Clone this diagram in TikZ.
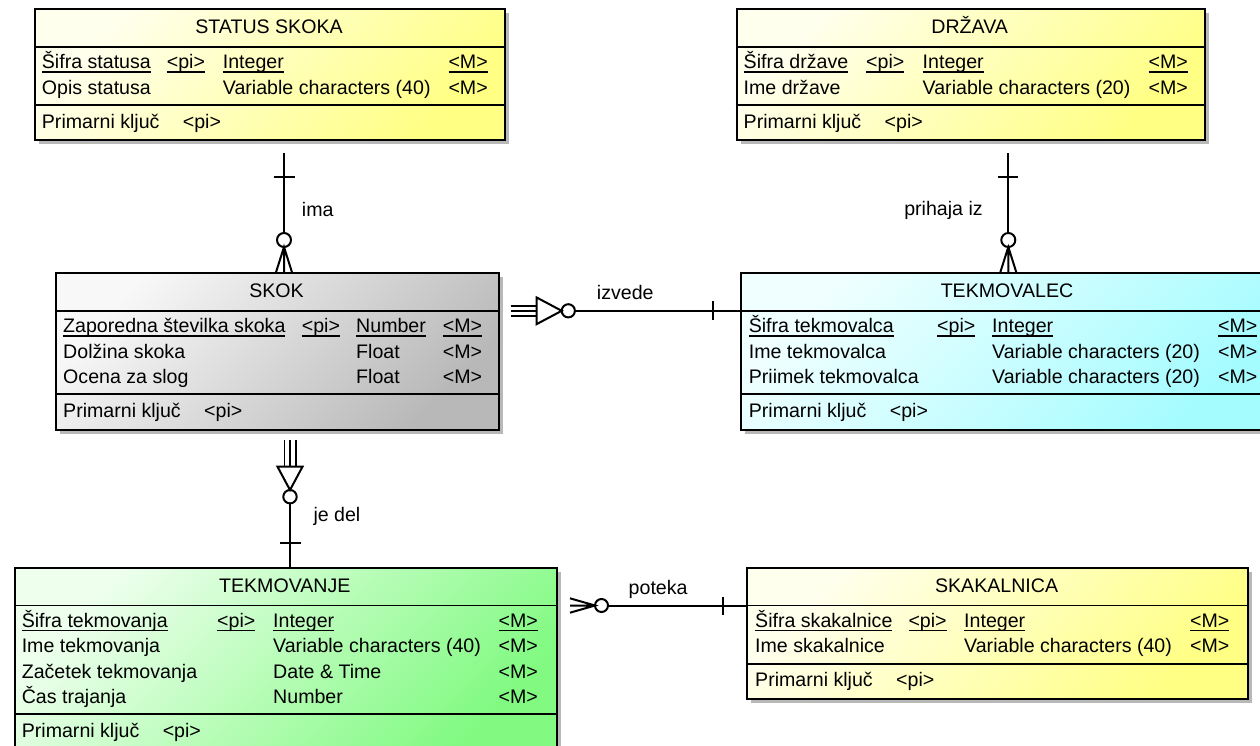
\documentclass[tikz,border=0pt]{standalone}
\usepackage{fontspec}
\setmainfont{Liberation Sans}
\usetikzlibrary{shadows}

\definecolor{ylwA}{RGB}{255,255,238}
\definecolor{ylwB}{RGB}{255,255,132}
\definecolor{cynA}{RGB}{240,255,255}
\definecolor{cynB}{RGB}{165,252,255}
\definecolor{grnA}{RGB}{238,255,238}
\definecolor{grnB}{RGB}{130,250,130}
\definecolor{gryA}{RGB}{248,248,248}
\definecolor{gryB}{RGB}{184,184,184}

% underlined primary-key field, rule at a fixed depth below the baseline
\newcommand\keyul[1]{\setbox0=\hbox{#1}\rlap{\rule[-3.8pt]{\wd0}{1.3pt}}\box0}

\begin{document}
\begin{tikzpicture}[x=1pt,y=-1pt,
  font=\fontsize{19.6}{23}\selectfont,
  entity/.style={draw=black, line width=2pt, anchor=north west, inner sep=0pt,
    drop shadow={shadow xshift=4pt, shadow yshift=-4pt, opacity=.28, fill=black}},
  ylw/.style={top color=ylwA, bottom color=ylwB, shading angle=45},
  cyn/.style={top color=cynA, bottom color=cynB, shading angle=45},
  grn/.style={top color=grnA, bottom color=grnB, shading angle=45},
  gry/.style={top color=gryA, bottom color=gryB, shading angle=45},
  sepline/.style={line width=1.8pt},
  fld/.style={anchor=base west, inner sep=0pt},
  ttl/.style={anchor=base, inner sep=0pt},
  conn/.style={line width=2pt},
  thin3/.style={line width=1.6pt},
]
\useasboundingbox (0,0) rectangle (1260,745);
\clip (0,0) rectangle (1260,745);
\fill[white] (0,0) rectangle (1260,745);

% ---------------- STATUS SKOKA ----------------
\node[entity, ylw, minimum width=470pt, minimum height=130.9pt] (status) at (34,8.3) {};
\draw[sepline] ([yshift=-38.5pt]status.north west) -- ([yshift=-38.5pt]status.north east);
\draw[sepline] ([yshift=-96.6pt]status.north west) -- ([yshift=-96.6pt]status.north east);
\node[ttl] (st-t) at (269,33.3) {STATUS SKOKA};
\node[fld] (st-a1) at (41.7,68.8) {\keyul{Šifra statusa}};
\node[fld] (st-p1) at (166.7,68.8) {\keyul{<pi>}};
\node[fld] (st-d1) at (222.7,68.8) {\keyul{Integer}};
\node[fld] (st-m1) at (448.3,68.8) {\keyul{<M>}};
\node[fld] (st-a2) at (41.7,94.1) {Opis statusa};
\node[fld] (st-d2) at (222.7,94.1) {Variable characters (40)};
\node[fld] (st-m2) at (448.3,94.1) {<M>};
\node[fld] (st-k) at (41.7,128.1) {Primarni ključ};
\node[fld] (st-kp) at (182.7,128.1) {<pi>};

% ---------------- DRŽAVA ----------------
\node[entity, ylw, minimum width=468.5pt, minimum height=130.9pt] (drzava) at (735.5,8.3) {};
\draw[sepline] ([yshift=-38.5pt]drzava.north west) -- ([yshift=-38.5pt]drzava.north east);
\draw[sepline] ([yshift=-96.6pt]drzava.north west) -- ([yshift=-96.6pt]drzava.north east);
\node[ttl] (dr-t) at (969.7,33.3) {DRŽAVA};
\node[fld] (dr-a1) at (743.5,68.8) {\keyul{Šifra države}};
\node[fld] (dr-p1) at (866,68.8) {\keyul{<pi>}};
\node[fld] (dr-d1) at (922.5,68.8) {\keyul{Integer}};
\node[fld] (dr-m1) at (1148.5,68.8) {\keyul{<M>}};
\node[fld] (dr-a2) at (743.5,94.1) {Ime države};
\node[fld] (dr-d2) at (922.5,94.1) {Variable characters (20)};
\node[fld] (dr-m2) at (1148.5,94.1) {<M>};
\node[fld] (dr-k) at (743.5,128.1) {Primarni ključ};
\node[fld] (dr-kp) at (884.5,128.1) {<pi>};

% ---------------- SKOK ----------------
\node[entity, gry, minimum width=443pt, minimum height=156.2pt] (skok) at (55,272.3) {};
\draw[sepline] ([yshift=-38.5pt]skok.north west) -- ([yshift=-38.5pt]skok.north east);
\draw[sepline] ([yshift=-121.9pt]skok.north west) -- ([yshift=-121.9pt]skok.north east);
\node[ttl] (sk-t) at (276.5,297.3) {SKOK};
\node[fld] (sk-a1) at (63,332.8) {\keyul{Zaporedna številka skoka}};
\node[fld] (sk-p1) at (301.7,332.8) {\keyul{<pi>}};
\node[fld] (sk-d1) at (356,332.8) {\keyul{Number}};
\node[fld] (sk-m1) at (442.7,332.8) {\keyul{<M>}};
\node[fld] (sk-a2) at (63,358.1) {Dolžina skoka};
\node[fld] (sk-d2) at (356,358.1) {Float};
\node[fld] (sk-m2) at (442.7,358.1) {<M>};
\node[fld] (sk-a3) at (63,383.4) {Ocena za slog};
\node[fld] (sk-d3) at (356,383.4) {Float};
\node[fld] (sk-m3) at (442.7,383.4) {<M>};
\node[fld] (sk-k) at (63,417.4) {Primarni ključ};
\node[fld] (sk-kp) at (204,417.4) {<pi>};

% ---------------- TEKMOVALEC ----------------
\node[entity, cyn, minimum width=533pt, minimum height=156.2pt] (tekmovalec) at (740,272.3) {};
\draw[sepline] ([yshift=-38.5pt]tekmovalec.north west) -- ([yshift=-38.5pt]tekmovalec.north east);
\draw[sepline] ([yshift=-121.9pt]tekmovalec.north west) -- ([yshift=-121.9pt]tekmovalec.north east);
\node[ttl] (tl-t) at (1007,297.3) {TEKMOVALEC};
\node[fld] (tl-a1) at (748.6,332.8) {\keyul{Šifra tekmovalca}};
\node[fld] (tl-p1) at (937,332.8) {\keyul{<pi>}};
\node[fld] (tl-d1) at (992,332.8) {\keyul{Integer}};
\node[fld] (tl-m1) at (1218,332.8) {\keyul{<M>}};
\node[fld] (tl-a2) at (748.6,358.1) {Ime tekmovalca};
\node[fld] (tl-d2) at (992,358.1) {Variable characters (20)};
\node[fld] (tl-m2) at (1218,358.1) {<M>};
\node[fld] (tl-a3) at (748.6,383.4) {Priimek tekmovalca};
\node[fld] (tl-d3) at (992,383.4) {Variable characters (20)};
\node[fld] (tl-m3) at (1218,383.4) {<M>};
\node[fld] (tl-k) at (748.6,417.4) {Primarni ključ};
\node[fld] (tl-kp) at (889.6,417.4) {<pi>};

% ---------------- TEKMOVANJE ----------------
\node[entity, grn, minimum width=542.4pt, minimum height=181.5pt] (tekmovanje) at (13.6,567) {};
\draw[sepline] ([yshift=-38.5pt]tekmovanje.north west) -- ([yshift=-38.5pt]tekmovanje.north east);
\draw[sepline] ([yshift=-147.2pt]tekmovanje.north west) -- ([yshift=-147.2pt]tekmovanje.north east);
\node[ttl] (tn-t) at (284.8,592) {TEKMOVANJE};
\node[fld] (tn-a1) at (21.6,627.5) {\keyul{Šifra tekmovanja}};
\node[fld] (tn-p1) at (217,627.5) {\keyul{<pi>}};
\node[fld] (tn-d1) at (273,627.5) {\keyul{Integer}};
\node[fld] (tn-m1) at (498.5,627.5) {\keyul{<M>}};
\node[fld] (tn-a2) at (21.6,652.8) {Ime tekmovanja};
\node[fld] (tn-d2) at (273,652.8) {Variable characters (40)};
\node[fld] (tn-m2) at (498.5,652.8) {<M>};
\node[fld] (tn-a3) at (21.6,678.1) {Začetek tekmovanja};
\node[fld] (tn-d3) at (273,678.1) {Date \& Time};
\node[fld] (tn-m3) at (498.5,678.1) {<M>};
\node[fld] (tn-a4) at (21.6,703.4) {Čas trajanja};
\node[fld] (tn-d4) at (273,703.4) {Number};
\node[fld] (tn-m4) at (498.5,703.4) {<M>};
\node[fld] (tn-k) at (21.6,737.4) {Primarni ključ};
\node[fld] (tn-kp) at (162.6,737.4) {<pi>};

% ---------------- SKAKALNICA ----------------
\node[entity, ylw, minimum width=501.3pt, minimum height=130.9pt] (skakalnica) at (746,567) {};
\draw[sepline] ([yshift=-38.5pt]skakalnica.north west) -- ([yshift=-38.5pt]skakalnica.north east);
\draw[sepline] ([yshift=-96.6pt]skakalnica.north west) -- ([yshift=-96.6pt]skakalnica.north east);
\node[ttl] (sc-t) at (996.6,592) {SKAKALNICA};
\node[fld] (sc-a1) at (755,627.5) {\keyul{Šifra skakalnice}};
\node[fld] (sc-p1) at (908.3,627.5) {\keyul{<pi>}};
\node[fld] (sc-d1) at (964,627.5) {\keyul{Integer}};
\node[fld] (sc-m1) at (1190,627.5) {\keyul{<M>}};
\node[fld] (sc-a2) at (755,652.8) {Ime skakalnice};
\node[fld] (sc-d2) at (964,652.8) {Variable characters (40)};
\node[fld] (sc-m2) at (1190,652.8) {<M>};
\node[fld] (sc-k) at (755,686.8) {Primarni ključ};
\node[fld] (sc-kp) at (896,686.8) {<pi>};

% ---------------- relationship "ima" ----------------
\coordinate (ima-s) at (284,152.7);
\coordinate (ima-t) at (284,177.3);
\coordinate (ima-c) at (284,240);
\coordinate (ima-e) at (ima-s |- skok.north);
\draw[conn] (ima-s) -- ([yshift=7pt]ima-c);
\draw[conn] ([xshift=-10.5pt]ima-t) -- ([xshift=10.5pt]ima-t);
\draw[conn] (ima-c) circle[radius=7pt];
\draw[conn] ([xshift=-8pt]ima-e) -- ([yshift=-7pt]ima-c) -- ([xshift=8pt]ima-e)
            ([yshift=-7pt]ima-c) -- (ima-e);
\node[fld] (ima-l) at (301.7,216.5) {ima};

% ---------------- relationship "prihaja iz" ----------------
\coordinate (ph-s) at (1008.3,153.3);
\coordinate (ph-t) at (1008.3,177.3);
\coordinate (ph-c) at (1008.3,240);
\coordinate (ph-e) at (ph-s |- tekmovalec.north);
\draw[conn] (ph-s) -- ([yshift=7pt]ph-c);
\draw[conn] ([xshift=-10pt]ph-t) -- ([xshift=10pt]ph-t);
\draw[conn] (ph-c) circle[radius=7pt];
\draw[conn] ([xshift=-8pt]ph-e) -- ([yshift=-7pt]ph-c) -- ([xshift=8pt]ph-e)
            ([yshift=-7pt]ph-c) -- (ph-e);
\node[anchor=base, inner sep=0pt] (ph-l) at (943.5,215.5) {prihaja iz};

% ---------------- relationship "izvede" ----------------
\coordinate (izv-s) at (510.7,310.8);
\coordinate (izv-b) at (536.7,310.8);
\coordinate (izv-a) at (561.7,310.8);
\coordinate (izv-c) at (568.3,310.8);
\coordinate (izv-t) at (713.3,310.8);
\coordinate (izv-e) at (izv-s -| tekmovalec.west);
\draw[thin3] ([yshift=5pt]izv-s) -- ([yshift=5pt]izv-b)
             (izv-s) -- (izv-b)
             ([yshift=-5pt]izv-s) -- ([yshift=-5pt]izv-b);
\draw[conn, line join=miter] (izv-a) -- ([yshift=13.3pt]izv-b) -- ([yshift=-13.3pt]izv-b) -- cycle;
\draw[conn] (izv-c) circle[radius=6.6pt];
\draw[conn] ([xshift=6.6pt]izv-c) -- (izv-e);
\draw[conn] ([yshift=9.5pt]izv-t) -- ([yshift=-9.5pt]izv-t);
\node[fld] (izv-l) at (596.7,299) {izvede};

% ---------------- relationship "je del" ----------------
\coordinate (jd-s) at (290,440);
\coordinate (jd-b) at (290,466.7);
\coordinate (jd-a) at (290,490);
\coordinate (jd-c) at (290,496.7);
\coordinate (jd-t) at (290,543.3);
\coordinate (jd-e) at (jd-s |- tekmovanje.north);
\draw[thin3] ([xshift=-5.7pt]jd-s) -- ([xshift=-5.7pt]jd-b)
             (jd-s) -- (jd-b)
             ([xshift=5.7pt]jd-s) -- ([xshift=5.7pt]jd-b);
\draw[conn, line join=miter] (jd-a) -- ([xshift=-12.5pt]jd-b) -- ([xshift=12.5pt]jd-b) -- cycle;
\draw[conn] (jd-c) circle[radius=6.7pt];
\draw[conn] ([yshift=-6.7pt]jd-c) -- (jd-e);
\draw[conn] ([xshift=-10.5pt]jd-t) -- ([xshift=10.5pt]jd-t);
\node[fld] (jd-l) at (313.3,521) {je del};

% ---------------- relationship "poteka" ----------------
\coordinate (pt-s) at (570,605.5);
\coordinate (pt-a) at (595,605.5);
\coordinate (pt-c) at (601.5,605.5);
\coordinate (pt-t) at (723.3,605.5);
\coordinate (pt-e) at (pt-s -| skakalnica.west);
\draw[conn] ([yshift=7.2pt]pt-s) -- (pt-a) -- ([yshift=-7.2pt]pt-s)
            (pt-s) -- (pt-a);
\draw[conn] (pt-c) circle[radius=6.5pt];
\draw[conn] ([xshift=6.5pt]pt-c) -- (pt-e);
\draw[conn] ([yshift=9pt]pt-t) -- ([yshift=-9pt]pt-t);
\node[fld] (pt-l) at (628.5,594) {poteka};
\end{tikzpicture}
\end{document}
